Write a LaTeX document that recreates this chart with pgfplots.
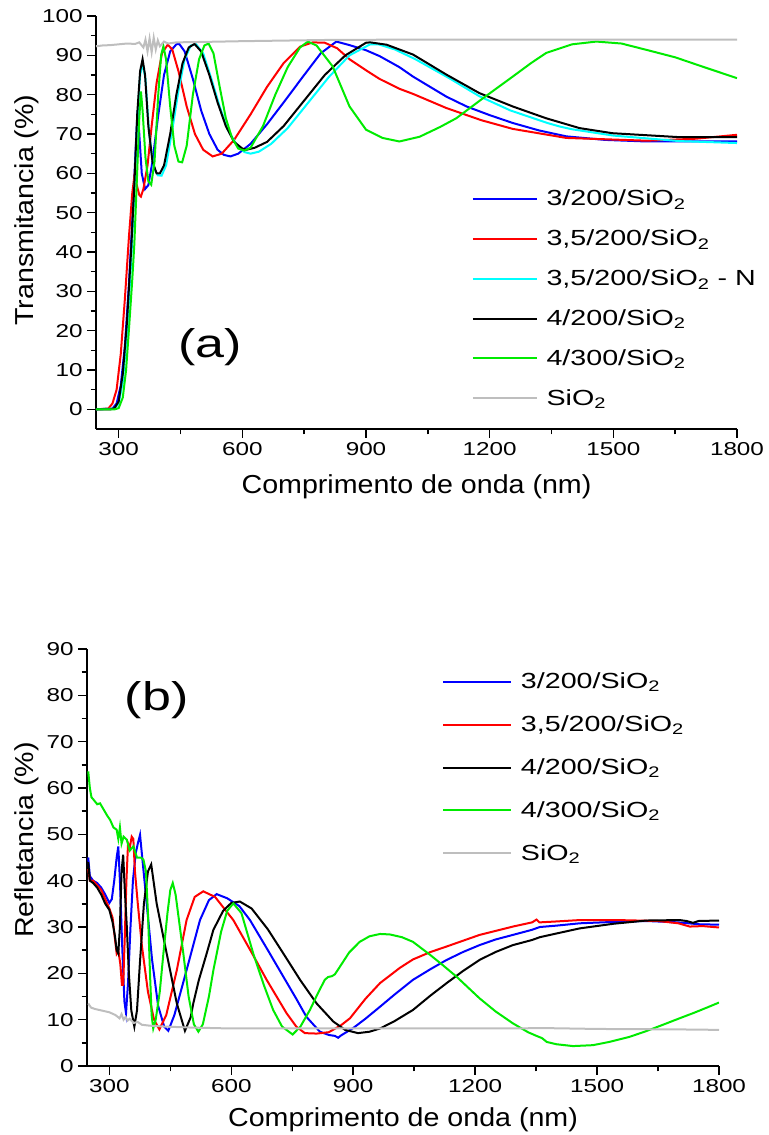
\documentclass[border=0pt]{standalone}
\usepackage{fontspec}
\setmainfont{Liberation Sans}
\newfontfamily\tickfont{Liberation Sans}[FakeStretch=1.3]
\newfontfamily\legfont{Liberation Sans}[FakeStretch=1.31]
\newfontfamily\labfont{Liberation Sans}[FakeStretch=1.1]
\newfontfamily\panfont{Liberation Sans}[FakeStretch=1.3]
\usepackage{pgfplots}
\pgfplotsset{compat=1.18}

\definecolor{cblue}{RGB}{0,0,255}
\definecolor{cred}{RGB}{255,0,0}
\definecolor{ccyan}{RGB}{0,255,255}
\definecolor{cgreen}{RGB}{0,235,0}
\definecolor{cgray}{RGB}{190,190,190}

\pgfplotsset{
  panel/.style={
    scale only axis,
    axis lines*=left,
    axis line style={line width=1.1pt},
    tick align=outside,
    major tick length=6.5pt,
    minor tick length=4pt,
    every tick/.style={line width=1.1pt, black},
    /pgf/number format/assume math mode=true,
    /pgf/number format/1000 sep={},
    tick label style={font=\tickfont\fontsize{14pt}{14pt}\selectfont},
    label style={font=\labfont\fontsize{19.5pt}{19.5pt}\selectfont},
    xmin=245, xmax=1800,
    xtick={300,600,...,1800},
    minor x tick num=1,
    minor y tick num=1,
    legend cell align=left,
    every axis plot/.append style={line width=1.5pt},
  }
}

\begin{document}
\begin{tikzpicture}
\useasboundingbox (0,0) rectangle (576pt,-851.25pt);

% ---------------- (a) transmitancia ----------------
\begin{axis}[panel,
  at={(72pt,-321.75pt)}, anchor=south west,
  width=480.75pt, height=309.75pt,
  ymin=-5, ymax=100,
  ytick={0,10,...,100},
  xlabel={Comprimento de onda (nm)},
  ylabel={Transmitancia (\%)},
  xlabel style={at={(axis description cs:0.5,-0.155)}, anchor=base},
  ylabel style={at={(axis description cs:-0.098,0.53)}, anchor=base},
  legend image code/.code={\draw[#1,line width=1.5pt] (0pt,0pt) -- (48pt,0pt);},
  legend style={at={(axis description cs:0.586,0.579)}, anchor=north west,
    draw=none, fill=none, inner sep=0pt, row sep=16.5pt, column sep=6.5pt,
    font=\legfont\fontsize{16.4pt}{16.4pt}\selectfont,
    nodes={inner sep=0pt}},
]
\addplot[cblue] coordinates {
(245,0) (285,0.2) (295,1.5) (305,6) (315,16) (325,32) (335,52) (342,68) (346,76)
(350,70) (356,60) (364,56) (372,57) (382,63) (395,74) (410,85) (425,91) (440,92.8)
(447,92.9) (460,91) (480,84) (500,76) (520,70) (540,66) (555,64.7) (571,64.3)
(590,65) (620,67.5) (660,72.5) (700,78) (750,85) (790,90.5) (828,93.5) (860,92.6)
(900,91.3) (933,89.8) (981,87.0) (1014,84.6) (1095,79.5) (1144,77.0) (1200,74.8)
(1256,72.8) (1320,70.9) (1386,69.4) (1480,68.5) (1580,68.1) (1800,68.1)};
\addlegendentry{3/200/SiO\textsubscript{2}}
\addplot[cred] coordinates {
(245,0) (275,0.2) (285,1.5) (295,5) (305,14) (315,28) (325,44) (333,55) (338,59.2)
(344,57) (350,54.5) (354,54.1) (360,56) (370,62) (380,72) (392,83) (405,90.5)
(419,92.7) (430,91.5) (445,86) (465,77) (485,70) (505,66) (528,64.3) (550,65)
(580,68.5) (620,75) (660,82) (700,88) (740,92.2) (771,93.3) (800,93.2) (830,91.8)
(860,89) (900,86.2) (933,84) (981,81.5) (1014,80.2) (1095,76.6) (1180,73.5)
(1256,71.3) (1386,69.0) (1580,68.3) (1700,68.8) (1800,69.8)};
\addlegendentry{3,5/200/SiO\textsubscript{2}}
\addplot[ccyan] coordinates {
(245,0) (290,0.2) (300,1.5) (310,7) (320,19) (330,37) (338,55) (345,73) (352,85)
(358,88) (365,84) (374,70) (385,61.5) (395,59.5) (404,59.4) (415,62) (430,71)
(445,81) (460,89) (475,92.5) (488,92.8) (505,90.5) (525,84) (545,77) (565,71)
(585,67.5) (605,65.4) (620,65) (640,65.5) (670,67.5) (710,71.5) (760,78) (810,84.5)
(860,90) (910,92.8) (930,92.8) (970,91.5) (1020,89) (1100,84.3) (1175,79.6)
(1250,76) (1340,72.8) (1370,71.9) (1400,71.2) (1500,69.6) (1660,68.2) (1800,67.7)};
\addlegendentry{3,5/200/SiO\textsubscript{2} - N}
\addplot[black] coordinates {
(245,0) (280,0) (290,0.3) (300,2) (310,9) (320,22) (330,40) (338,57) (345,75)
(352,86) (358,89) (364,85) (372,72) (382,63) (392,60) (400,60) (410,62) (425,70)
(440,80) (455,88) (470,92) (484,92.9) (500,91) (520,85) (540,78) (560,72) (580,68)
(600,66.3) (610,66) (630,66.5) (660,68) (700,72) (750,78.5) (800,85) (850,90)
(900,93.2) (910,93.3) (950,92.7) (1014,90.2) (1095,85.1) (1175,80.4) (1256,77)
(1337,74) (1418,71.5) (1498,70.2) (1660,69.2) (1800,69.2)};
\addlegendentry{4/200/SiO\textsubscript{2}}
\addplot[cgreen] coordinates {
(245,0) (290,0) (300,0.3) (310,3) (318,10) (326,22) (333,33) (338,42) (344,58)
(350,74) (354,80.8) (358,76) (365,64) (372,58) (379,57.1) (387,63) (396,80) (403,90)
(408.5,92.3) (415,89) (425,77) (435,67) (445,63) (454,62.8) (465,67) (480,80)
(495,89) (508,92.5) (518,93) (530,90.5) (545,82) (560,74) (575,69) (590,66.3)
(605,65.8) (620,66.5) (650,72) (680,80) (710,87) (740,92) (759,93.5) (780,92.5)
(819,87.2) (860,77) (900,71.1) (940,69) (981,68.1) (1030,69.3) (1080,71.8) (1119,74)
(1180,78.8) (1256,84.6) (1300,88) (1337,90.6) (1400,92.8) (1459,93.5) (1520,93)
(1580,91.4) (1650,89.5) (1720,87) (1800,84.2)};
\addlegendentry{4/300/SiO\textsubscript{2}}
\addplot[cgray] coordinates {
(245,92.3) (260,92.5) (280,92.6) (300,92.8) (320,93.0) (340,92.9) (350,93.3) (360,92.0)
(365,94.0) (370,91.0) (375,94.3) (380,90.8) (385,94.5) (390,91.5) (395,93.8) (400,92.3)
(410,93.5) (420,93.0) (440,93.3) (500,93.4) (600,93.6) (800,93.9) (1000,94.0) (1800,94.0)};
\addlegendentry{SiO\textsubscript{2}}
\node[font=\panfont\fontsize{30pt}{30pt}\selectfont, inner sep=0pt] at (axis cs:522,15.7) {(a)};
\end{axis}

% ---------------- (b) refletancia ----------------
\begin{axis}[panel,
  at={(65.25pt,-799.5pt)}, anchor=south west,
  width=474pt, height=312.75pt,
  ymin=0, ymax=90,
  ytick={0,10,...,90},
  xlabel={Comprimento de onda (nm)},
  ylabel={Refletancia (\%)},
  xlabel style={at={(axis description cs:0.5,-0.1456)}, anchor=base},
  ylabel style={at={(axis description cs:-0.0854,0.542)}, anchor=base},
  legend image code/.code={\draw[#1,line width=1.5pt] (0pt,0pt) -- (51pt,0pt);},
  legend style={at={(axis description cs:0.5617,0.944)}, anchor=north west,
    draw=none, fill=none, inner sep=0pt, row sep=18.85pt, column sep=6.5pt,
    font=\legfont\fontsize{16.4pt}{16.4pt}\selectfont,
    nodes={inner sep=0pt}},
]
\addplot[cblue] coordinates {
(248,45) (252,41) (260,40) (270,39.5) (280,38.5) (290,37) (300,35.2) (306,36) (312,40)
(318,45) (322,47.4) (326,40) (332,25) (337,14) (341,11.4) (346,18) (352,30) (358,40)
(365,46) (370,48) (375.5,49.9) (382,44) (392,35) (405,23) (420,13) (435,8.5) (445,7.6)
(460,11) (490,20.7) (523,31.5) (545,35.8) (564,37.1) (590,36.2) (620,34.5) (646,31.5)
(690,25) (728,19.3) (760,14.5) (785,10.6) (818,7.4) (840,6.7) (855,6.5) (863,6.1)
(870,6.6) (900,8.2) (930,10.2) (966,12.8) (1000,15.3) (1047,18.6) (1090,20.9)
(1130,22.9) (1170,24.6) (1211,26.1) (1250,27.3) (1293,28.3) (1340,29.4) (1359,30.0)
(1400,30.3) (1457,30.8) (1540,31.1) (1621,31.3) (1700,31.0) (1750,30.6) (1800,30.5)};
\addlegendentry{3/200/SiO\textsubscript{2}}
\addplot[cred] coordinates {
(248,42.5) (252,40) (260,40) (270,39) (280,38) (290,36) (300,34) (308,32) (313,28)
(318,24.3) (322,25) (327,22) (331,17.5) (334,17.5) (338,28) (342,40) (346,48) (350,47)
(355,49.5) (359,49) (363,42) (370,35) (380,26) (395,16) (410,10) (423,7.9) (440,11)
(466,20.7) (490,31.5) (510,36.5) (531,37.7) (560,36.5) (605,31.5) (650,24.5)
(687,18.6) (736,11.4) (760,8.5) (781,7.1) (810,7) (840,7.3) (870,8.8) (892,10.3)
(930,14.5) (966,17.9) (1015,21.2) (1047,23.0) (1090,24.6) (1130,25.8) (1211,28.3)
(1293,30.1) (1340,31.0) (1351,31.6) (1358,31.0) (1400,31.2) (1457,31.5) (1550,31.5)
(1650,31.3) (1700,30.8) (1728,30.1) (1760,30.2) (1800,29.9)};
\addlegendentry{3,5/200/SiO\textsubscript{2}}
\addplot[black] coordinates {
(248,44) (252,40) (260,39.5) (270,38.5) (280,37) (290,35) (300,33.7) (308,31) (314,27.9)
(318,25) (322,24.3) (326,30) (330,42) (334,45.6) (338,38) (343,30) (348,20) (354,12)
(361.5,8.5) (368,12) (375,22) (385,35) (395,42) (403,43.5) (416.5,35) (441,24.3)
(466,13.5) (486,7.6) (500,10.5) (506.5,13.5) (520,18.5) (539.5,24.3) (556,29.4)
(580,33.5) (600,35.2) (621,35.5) (650,34) (690,29.5) (728,24.3) (770,18.5) (810,13.5)
(851,9.6) (880,7.8) (912,7.1) (940,7.4) (966,8.1) (1000,9.6) (1047,12.1) (1090,15.2)
(1130,17.9) (1170,20.5) (1211,22.9) (1250,24.6) (1293,26.1) (1340,27.2) (1359,27.8)
(1400,28.6) (1457,29.7) (1540,30.7) (1621,31.4) (1703,31.5) (1720,31.3) (1736,30.9)
(1750,31.3) (1800,31.4)};
\addlegendentry{4/200/SiO\textsubscript{2}}
\addplot[cgreen] coordinates {
(248,63.6) (252,60) (256,58) (261,57.5) (270,56.5) (277,56.7) (285,55.5) (295,54)
(302,53.1) (310,51.5) (318,51) (322,49) (326,51.5) (330,48) (335,49.5) (343,48.8)
(350,46.5) (359,47.4) (368,45) (378,45) (384,44.5) (390,42) (395,33) (400,20) (404,11)
(408,8.1) (414,10) (424,16) (433,24.3) (443,33) (450,38) (456,39.5) (463,37) (472,31)
(482,24.3) (495,15) (508,9) (519,7.4) (530,9) (545,15) (556,20.7) (575,29) (590,33.5)
(605,35.1) (625,33) (654,24.3) (680,17.5) (703,12.1) (725,8.5) (751,6.8) (770,8.5)
(793.5,12.1) (812,15.5) (830,18.6) (838,19.2) (848,19.4) (855,19.8) (867,21.4)
(890,24.5) (916,26.8) (940,28) (966,28.5) (990,28.4) (1020,27.8) (1047,26.8) (1089,24)
(1120,21.8) (1154,19.3) (1211,14.6) (1250,11.8) (1293,9.2) (1330,7.3) (1351,6.5)
(1365,6.0) (1376,5.2) (1400,4.7) (1441,4.3) (1490,4.5) (1530,5.2) (1580,6.3) (1620,7.5)
(1662,8.9) (1700,10.2) (1736,11.4) (1770,12.6) (1800,13.7)};
\addlegendentry{4/300/SiO\textsubscript{2}}
\addplot[cgray] coordinates {
(248,13.5) (255,12.6) (265,12.3) (280,12.0) (300,11.6) (315,11.0) (325,10.3) (330,11.2)
(335,10.0) (340,10.6) (345,9.8) (350,10.2) (360,9.3) (370,9.5) (380,8.9) (400,8.7)
(440,8.5) (500,8.3) (600,8.1) (900,8.1) (1300,8.1) (1360,8.2) (1500,8.0) (1700,7.9)
(1800,7.8)};
\addlegendentry{SiO\textsubscript{2}}
\node[font=\panfont\fontsize{30pt}{30pt}\selectfont, inner sep=0pt] at (axis cs:416.5,79) {(b)};
\end{axis}
\end{tikzpicture}
\end{document}
